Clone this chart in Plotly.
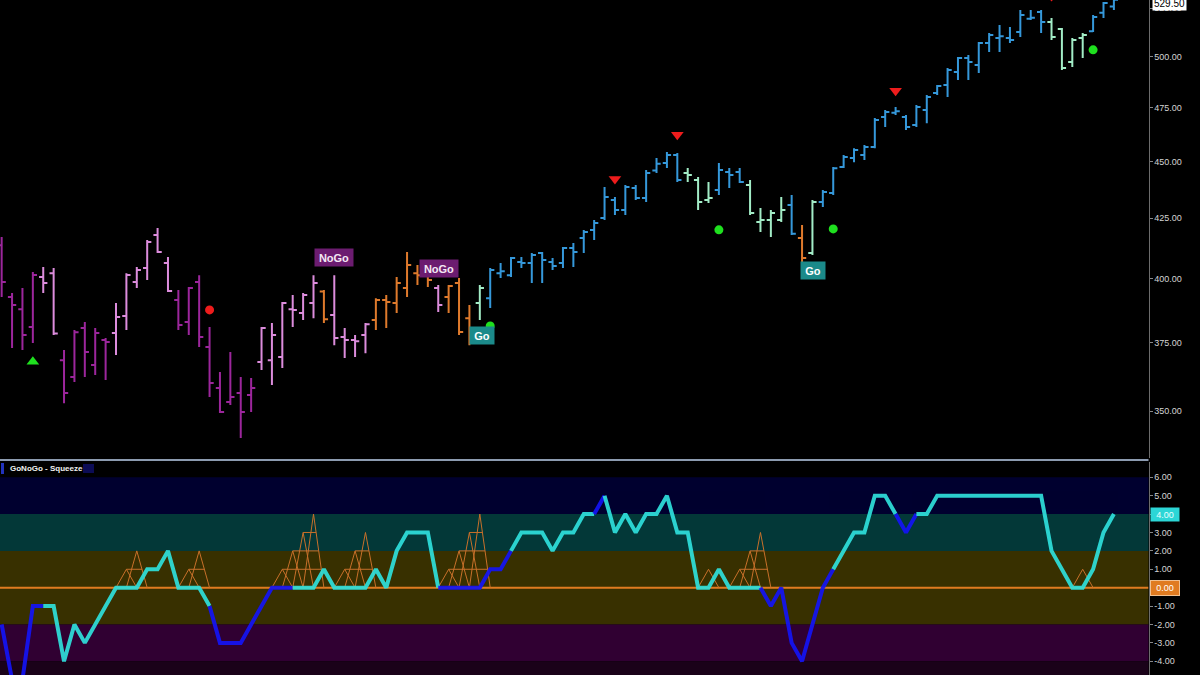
import math
import plotly.graph_objects as go

# ---------------- data ----------------
opens = [413.7, 392.7, 387.9, 381.0, 400.6, 402.2, 368.5, 362.3, 380.6, 366.7,
         376.0, 378.7, 385.2, 398.6, 404.3, 417.9, 406.3, 391.5, 382.9, 398.6,
         373.4, 358.3, 353.3, 356.5, 355.8, 367.8, 368.5, 369.7, 387.9, 386.4,
         390.3, 394.8, 385.6, 377.2, 376.0, 377.9, 383.7, 391.5, 390.3, 396.2,
         402.2, 403.5, 396.2, 392.7, 398.2, 384.4, 390.3, 392.2, 402.2, 401.4,
         406.7, 406.3, 410.4, 406.7, 406.3, 412.5, 416.7, 420.0, 425.1, 432.9,
         428.6, 438.2, 433.8, 446.0, 449.3, 453.0, 444.8, 441.7, 432.9, 437.3,
         445.3, 445.3, 439.5, 423.4, 424.3, 424.3, 430.7, 416.7, 410.4, 432.0,
         436.0, 447.5, 451.6, 453.0, 456.6, 470.6, 472.6, 470.6, 466.8, 473.9,
         482.1, 486.0, 492.4, 499.4, 495.9, 507.0, 509.5, 509.5, 512.6, 519.5,
         523.1, 517.8, 514.2, 497.4, 509.5, 513.0, 522.6, 526.0]
highs = [417.1, 394.2, 396.2, 402.7, 404.7, 404.3, 372.3, 379.8, 382.9, 380.6,
         376.8, 390.3, 402.2, 404.7, 415.8, 420.9, 408.8, 395.4, 396.6, 401.4,
         381.0, 364.1, 371.5, 362.3, 361.9, 381.0, 382.5, 390.7, 393.5, 394.2,
         401.4, 395.4, 401.4, 380.6, 377.9, 382.5, 392.2, 393.5, 400.6, 410.8,
         405.5, 405.5, 397.4, 397.4, 400.2, 389.5, 397.4, 404.3, 406.3, 408.8,
         408.8, 410.4, 410.8, 408.4, 412.9, 414.6, 420.0, 424.3, 438.6, 434.2,
         439.5, 439.5, 446.2, 451.6, 454.3, 453.9, 447.1, 443.0, 440.8, 449.3,
         447.1, 447.1, 441.7, 429.4, 428.6, 434.2, 435.1, 422.2, 432.9, 437.3,
         447.5, 453.0, 456.1, 457.5, 470.1, 473.9, 475.4, 471.6, 476.3, 481.1,
         486.0, 494.4, 499.9, 500.9, 507.5, 512.1, 516.3, 515.2, 524.1, 524.1,
         524.1, 519.9, 514.7, 509.5, 512.1, 521.5, 528.3, 531.0]
lows = [392.7, 373.0, 372.3, 374.9, 394.2, 377.9, 352.9, 360.5, 362.3, 363.0,
        361.2, 370.4, 379.8, 396.2, 399.4, 410.4, 394.6, 379.8, 377.9, 373.4,
        355.1, 349.4, 352.2, 340.7, 349.8, 364.9, 359.4, 365.6, 381.0, 383.7,
        384.4, 382.5, 374.1, 369.3, 369.7, 371.1, 379.8, 380.6, 386.4, 392.7,
        397.4, 396.6, 386.8, 386.4, 377.9, 374.1, 383.7, 388.3, 400.2, 400.6,
        404.3, 398.2, 398.2, 403.5, 404.3, 404.7, 410.4, 415.8, 424.3, 426.4,
        426.4, 432.9, 432.0, 444.8, 447.1, 440.8, 440.8, 428.6, 431.6, 435.1,
        438.2, 440.4, 426.4, 419.2, 417.1, 423.4, 417.9, 406.7, 409.6, 429.9,
        435.1, 447.1, 449.7, 450.7, 456.1, 465.9, 471.6, 464.5, 465.9, 467.7,
        481.1, 480.2, 488.5, 488.5, 491.9, 502.4, 502.4, 507.0, 510.1, 518.9,
        512.1, 508.5, 493.4, 494.9, 499.4, 512.6, 519.9, 524.1]
closes = [398.6, 389.5, 377.9, 401.5, 398.2, 378.5, 356.5, 379.0, 371.5, 378.7,
          375.3, 384.8, 401.5, 403.5, 415.0, 410.8, 395.0, 381.8, 396.2, 377.2,
          360.1, 349.8, 355.1, 349.8, 358.3, 380.6, 377.9, 390.3, 387.6, 393.5,
          398.2, 384.0, 376.8, 376.0, 375.6, 382.0, 391.5, 390.7, 398.2, 405.5,
          401.4, 399.4, 389.5, 397.0, 379.1, 375.3, 396.2, 403.5, 403.0, 408.4,
          406.3, 409.6, 407.6, 405.1, 412.5, 410.8, 419.2, 423.0, 434.2, 428.6,
          438.6, 433.8, 444.8, 449.0, 453.0, 441.7, 443.9, 432.0, 433.8, 446.2,
          443.9, 440.8, 427.3, 424.3, 427.3, 428.6, 418.5, 408.4, 432.0, 436.4,
          447.0, 452.0, 455.2, 456.6, 469.2, 473.0, 473.4, 465.9, 475.4, 480.2,
          485.5, 493.4, 499.4, 497.4, 507.0, 511.1, 510.5, 508.5, 521.5, 520.0,
          517.8, 510.1, 494.4, 508.5, 511.1, 520.4, 527.8, 529.5]
# trend state of each bar: P=NoGo, L=weak NoGo, O=neutral, G=weak Go, B=Go
bar_state = list("PPPPLLPPPPPLLLLLLPPPPPPPPLLLLLLOLLLLOOOOOOLOOOGBBBBBBBBBBBBBBBBBBBGGGBBBGGGGBOGBBBBBBBBBBBBBBBBBBBBBBGGGGBBB")

# oscillator
osc = [-2, -5, -5, -1, -1, -1, -4, -2, -3, -2,
       -1, 0, 0, 0, 1, 1, 2, 0, 0, 0,
       -1, -3, -3, -3, -2, -1, 0, 0, 0, 0,
       0, 1, 0, 0, 0, 0, 1, 0, 2, 3,
       3, 3, 0, 0, 0, 0, 0, 1, 1, 2,
       3, 3, 3, 2, 3, 3, 4, 4, 5, 3,
       4, 3, 4, 4, 5, 3, 3, 0, 0, 1,
       0, 0, 0, 0, -1, 0, -3, -4, -2, 0,
       1, 2, 3, 3, 5, 5, 4, 3, 4, 4,
       5, 5, 5, 5, 5, 5, 5, 5, 5, 5,
       5, 2, 1, 0, 0, 1, 3, 4]
# colour of the segment from bar i to bar i+1: c=cyan, b=blue
osc_seg = list("bbbb" + "c" * 16 + "b" * 8 + "c" * 14 + "b" * 7 + "c" * 8 + "b"
               + "c" * 15 + "b" * 7 + "c" * 6 + "bb" + "c" * 19)

# signal markers (bar index, price)
tri_up_x, tri_up_y = [3], [367.9]
tri_dn_x, tri_dn_y = [59, 65, 86, 101], [442.2, 462.3, 483.2, 531.5]
dot_red_x, dot_red_y = [20], [387.6]
dot_grn_x, dot_grn_y = [47, 69, 80, 105], [381.4, 420.1, 420.5, 503.5]
# text labels
lab_text = ["NoGo", "NoGo", "Go", "Go"]
lab_x = [32, 42.1, 46.2, 78.1]
lab_y = [408.6, 403.9, 377.7, 403.1]
last_price = 529.50
price_ticks = [350, 375, 400, 425, 450, 475, 500, 525]
osc_ticks = [-4, -3, -2, -1, 0, 1, 2, 3, 4, 5, 6]

# ---------------- styling ----------------
FONT = "Liberation Sans, Arial, sans-serif"
state_color = {"P": "#9c269c", "L": "#dc8cdc", "O": "#df7a2c",
               "G": "#a2ecc6", "B": "#3598da"}
CYAN, BLUE, ORANGE = "#2fe0dc", "#1414f5", "#e07b20"
XDOM = [0, 1148.5 / 1200]
N = len(closes)
XR = [-0.16, 110.33]

fig = go.Figure()

for st, col in state_color.items():
    idx = [i for i in range(N) if bar_state[i] == st]
    fig.add_trace(go.Ohlc(
        x=idx, open=[opens[i] for i in idx], high=[highs[i] for i in idx],
        low=[lows[i] for i in idx], close=[closes[i] for i in idx],
        increasing=dict(line=dict(color=col, width=2)),
        decreasing=dict(line=dict(color=col, width=2)),
        tickwidth=0.4, xaxis="x", yaxis="y", showlegend=False, hoverinfo="skip"))

def mk(x, y, sym, col, size):
    fig.add_trace(go.Scatter(x=x, y=y, mode="markers", xaxis="x", yaxis="y",
                             marker=dict(symbol=sym, color=col, size=size, line=dict(width=0)),
                             showlegend=False, hoverinfo="skip"))

mk(tri_up_x, tri_up_y, "triangle-up", "#1fe01f", 11)
mk(tri_dn_x, tri_dn_y, "triangle-down", "#ee1c1c", 11)
mk(dot_red_x, dot_red_y, "circle", "#ee1c1c", 9)
mk(dot_grn_x, dot_grn_y, "circle", "#1fe01f", 9)

# ---- squeeze grid (orange climbing triangles) ----
sq_x, sq_y = [], []
i = 0
while i < N:
    if osc[i] == 0:
        a = i
        while i + 1 < N and osc[i + 1] == 0:
            i += 1
        b = i
        for j in range(a + 1, b + 1):
            L = j - a
            sq_x += [j - 1, j, j + 1, None]
            sq_y += [0, L, 0, None]
        top = b - a
        for k in range(1, top):
            sq_x += [a + k, b + 1 - k / top, None]
            sq_y += [k, k, None]
    i += 1

fig.add_trace(go.Scatter(x=XR, y=[0, 0], mode="lines", xaxis="x2", yaxis="y2",
                         line=dict(color=ORANGE, width=2), showlegend=False, hoverinfo="skip"))
fig.add_trace(go.Scatter(x=sq_x, y=sq_y, mode="lines", xaxis="x2", yaxis="y2",
                         line=dict(color="#c8702a", width=1), showlegend=False,
                         hoverinfo="skip", connectgaps=False))

# ---- oscillator line, split into colour runs ----
s = 0
while s < N - 1:
    e = s
    while e + 1 < N - 1 and osc_seg[e + 1] == osc_seg[s]:
        e += 1
    xs = list(range(s, e + 2))
    fig.add_trace(go.Scatter(x=xs, y=[osc[k] for k in xs], mode="lines",
                             xaxis="x2", yaxis="y2",
                             line=dict(color=CYAN if osc_seg[s] == "c" else BLUE, width=4),
                             opacity=0.92, showlegend=False, hoverinfo="skip"))
    s = e + 1

# ---- bands in lower panel ----
bands = [(6, 4, "#00002f"), (4, 2, "#033838"), (2, -2, "#383000"),
         (-2, -4, "#300032"), (-4, -6, "#1a0219")]
shapes = []
for y0, y1, c in bands:
    shapes.append(dict(type="rect", xref="x2 domain", yref="y2", x0=0, x1=1,
                       y0=y0, y1=y1, fillcolor=c, line=dict(width=0), layer="below"))
# separator between panels
shapes.append(dict(type="line", xref="paper", yref="paper", x0=0, x1=XDOM[1],
                   y0=(675 - 460) / 675, y1=(675 - 460) / 675,
                   line=dict(color="#8c9bb0", width=2)))
# header markers in lower panel
shapes.append(dict(type="rect", xref="paper", yref="paper", x0=1 / 1200, x1=4 / 1200,
                   y0=(675 - 474) / 675, y1=(675 - 463) / 675, fillcolor="#2233bb",
                   line=dict(width=0)))
shapes.append(dict(type="rect", xref="paper", yref="paper", x0=83 / 1200, x1=94 / 1200,
                   y0=(675 - 473) / 675, y1=(675 - 464) / 675, fillcolor="#0c0c55",
                   line=dict(width=0)))

ann = []
for t, x, y in zip(lab_text, lab_x, lab_y):
    nogo = t == "NoGo"
    ann.append(dict(x=x, y=math.log10(y), xref="x", yref="y", text="<b>%s</b>" % t,
                    showarrow=False, bgcolor="#6c1c70" if nogo else "#1b8a8a",
                    font=dict(family=FONT, size=11, color="#f4e8f4" if nogo else "#ffffff"),
                    width=36 if nogo else 22, height=15, xanchor="center", yanchor="middle"))
ann.append(dict(x=1152 / 1200, y=math.log10(527.6), xref="paper", yref="y",
                text="%.2f" % last_price, showarrow=False, bgcolor="#ffffff",
                font=dict(family=FONT, size=10, color="#000000"), xanchor="left",
                yanchor="middle", borderpad=1))
ann.append(dict(x=1150 / 1200, y=osc[-1], xref="paper", yref="y2", text="%.2f" % osc[-1],
                showarrow=False, bgcolor="#2cd6d6", font=dict(family=FONT, size=9, color="#e8ffff"),
                xanchor="left", yanchor="middle", width=26, height=11))
ann.append(dict(x=1150 / 1200, y=0, xref="paper", yref="y2", text="0.00",
                showarrow=False, bgcolor="#e07b20", font=dict(family=FONT, size=9, color="#ffffff"),
                xanchor="left", yanchor="middle", width=26, height=12,
                bordercolor="#f0c090", borderwidth=1))
ann.append(dict(x=8 / 1200, y=(675 - 468.5) / 675, xref="paper", yref="paper",
                text="<b>GoNoGo - Squeeze</b>", showarrow=False, xanchor="left",
                yanchor="middle", font=dict(family=FONT, size=8, color="#f0f0f0")))

axis_common = dict(showgrid=False, zeroline=False, showline=True, linecolor="#6c6c6c",
                   linewidth=1, side="right", ticks="outside", ticklen=3, tickcolor="#888888",
                   tickfont=dict(family=FONT, size=9, color="#d4d4d4"))

fig.update_layout(
    width=1200, height=675, margin=dict(l=0, r=0, t=0, b=0),
    paper_bgcolor="#000000", plot_bgcolor="#000000", showlegend=False,
    xaxis=dict(domain=XDOM, range=XR, visible=False, rangeslider=dict(visible=False),
               anchor="y"),
    xaxis2=dict(domain=XDOM, range=XR, visible=False, anchor="y2"),
    yaxis=dict(domain=[(675 - 458) / 675, 1], type="log",
               range=[math.log10(333.95), math.log10(529.4)],
               tickvals=price_ticks, ticktext=["%.2f" % v for v in price_ticks],
               anchor="x", **axis_common),
    yaxis2=dict(domain=[0, (675 - 462) / 675], range=[-4.745, 6.83],
                tickvals=osc_ticks, ticktext=["%.2f" % v for v in osc_ticks],
                anchor="x2", **axis_common),
    shapes=shapes, annotations=ann,
)

fig.write_html("out.html", config={"displayModeBar": False},
               post_script="document.body.style.margin='0px';"
                           "document.body.style.overflow='hidden';"
                           "document.body.style.background='#000000';")
